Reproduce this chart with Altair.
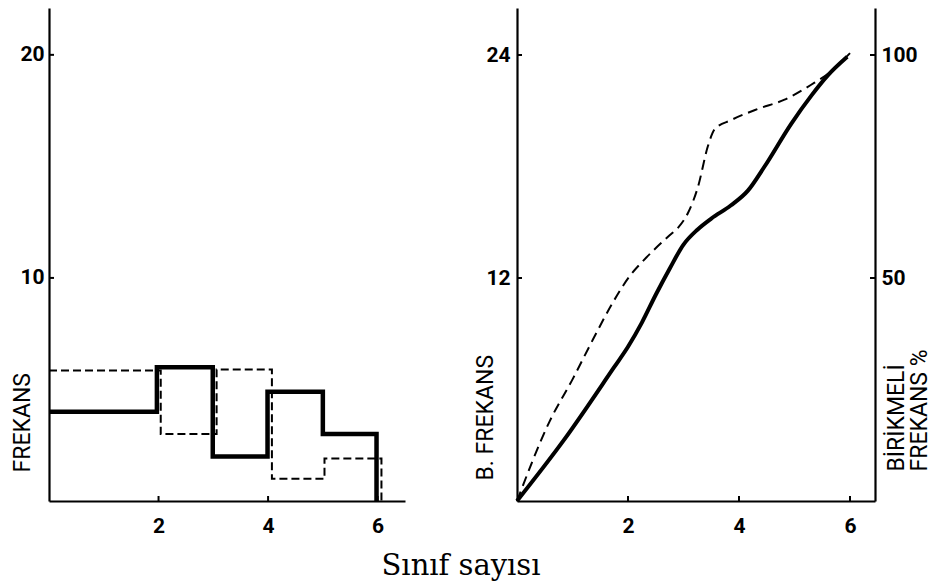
import altair as alt
import pandas as pd

# ---------------- data ----------------
# Left panel: step (histogram) frequencies per class
solid_edges = [0, 1.97, 2.99, 3.99, 5.0, 5.98]
solid_freq = [4.0, 6.0, 2.0, 4.9, 3.0, 0.0]
dashed_edges = [0, 2.04, 3.06, 4.07, 5.03, 6.07]
dashed_freq = [5.85, 3.0, 5.9, 1.0, 1.9, 0.0]

# Right panel: cumulative frequency curves
cum_solid_x = [0, 0.85, 1.75, 2.0, 2.25, 2.5, 2.75, 3.0, 3.25, 3.5, 3.85, 4.16, 4.46, 4.94, 5.3, 5.6, 5.95]
cum_solid_y = [0, 3.3, 7.2, 8.3, 9.6, 11.1, 12.5, 13.8, 14.6, 15.2, 15.9, 16.7, 18.0, 20.3, 21.8, 22.9, 23.9]
cum_dashed_x = [0, 0.59, 1.01, 1.37, 1.73, 2.03, 2.33, 2.75, 2.9, 3.08, 3.26, 3.44, 3.56, 3.86, 4.34, 4.82, 5.3, 5.65, 6.0]
cum_dashed_y = [0, 4.3, 6.6, 8.7, 10.7, 12.1, 13.1, 14.3, 14.7, 15.5, 16.9, 19.1, 20.0, 20.5, 21.1, 21.6, 22.4, 23.1, 24.1]

x_ticks = [2, 4, 6]
left_y_ticks = [10, 20]
right_y_ticks = [12, 24]
pct_ticks = [50, 100]

# ---------------- layout / style ----------------
W1, W2, H = 356, 358, 493
XMAX_L, XMAX_R = 6.5, 6.45
YMAX_L = 22.1
YMAX_R = 26.53
PMAX = YMAX_R / 24 * 100

TICK_FONT = "Roboto, DejaVu Sans"
TITLE_FONT = "Roboto, DejaVu Sans"
SERIF = "DejaVu Serif"

df_ls = pd.DataFrame({"x": solid_edges, "y": solid_freq})
df_ld = pd.DataFrame({"x": dashed_edges, "y": dashed_freq})
df_rs = pd.DataFrame({"x": cum_solid_x, "y": cum_solid_y})
df_rd = pd.DataFrame({"x": cum_dashed_x, "y": cum_dashed_y})
df_xt = pd.DataFrame({"x": x_ticks})
df_lyt = pd.DataFrame({"y": left_y_ticks})
df_ryt = pd.DataFrame({"y": right_y_ticks})
df_pt = pd.DataFrame({"p": pct_ticks})

common_axis = dict(
    ticks=False, grid=False, domainColor="black", domainWidth=2.2,
    labelFont=TICK_FONT, labelFontSize=21, labelFontWeight="bold",
    labelColor="black", format="d",
)
title_style = dict(
    titleFont=TITLE_FONT, titleFontSize=23, titleFontWeight="normal",
    titleColor="black", titleAngle=270, titleAlign="left", titleBaseline="middle",
)
no_frame = alt.ViewBackground(strokeOpacity=0, strokeWidth=0)

x_axis = alt.Axis(values=x_ticks, labelPadding=14, title=None, **common_axis)

# ---------- left panel ----------
XL = alt.X("x:Q", scale=alt.Scale(domain=[0, XMAX_L], nice=False, zero=False), axis=x_axis)
YL = alt.Y(
    "y:Q",
    scale=alt.Scale(domain=[0, YMAX_L], nice=False),
    axis=alt.Axis(
        values=left_y_ticks, labelPadding=5, title="FREKANS",
        titleX=-27, titleY=H - 29, **title_style, **common_axis,
    ),
)

left_solid = alt.Chart(df_ls).mark_line(
    interpolate="step-after", color="black", strokeWidth=4.5
).encode(x=XL, y=YL)
left_dashed = alt.Chart(df_ld).mark_line(
    interpolate="step-after", color="black", strokeWidth=2, strokeDash=[8, 4]
).encode(x=XL, y=YL)
left_xt = alt.Chart(df_xt).mark_rule(color="black", strokeWidth=2).encode(
    x=XL, y=alt.value(H), y2=alt.value(H - 5)
)
left_yt = alt.Chart(df_lyt).mark_rule(color="black", strokeWidth=2).encode(
    y=YL, x=alt.value(0), x2=alt.value(5)
)
left = alt.layer(left_solid, left_dashed, left_xt, left_yt).properties(
    width=W1, height=H, view=no_frame
)

# ---------- right panel ----------
XR = alt.X("x:Q", scale=alt.Scale(domain=[0, XMAX_R], nice=False, zero=False), axis=x_axis)
YR = alt.Y(
    "y:Q",
    scale=alt.Scale(domain=[0, YMAX_R], nice=False),
    axis=alt.Axis(
        values=right_y_ticks, labelPadding=7, title="B. FREKANS",
        titleX=-32, titleY=H - 21, **title_style, **common_axis,
    ),
)
YP = alt.Y(
    "p:Q",
    scale=alt.Scale(domain=[0, PMAX], nice=False),
    axis=alt.Axis(
        orient="right", values=pct_ticks, labelPadding=6,
        title=["BİRİKMELİ", "FREKANS %"],
        titleX=21, titleY=H - 30, titleLineHeight=23,
        **title_style, **common_axis,
    ),
)

right_solid = alt.Chart(df_rs).mark_line(
    interpolate="monotone", color="black", strokeWidth=4
).encode(x=XR, y=YR)
right_dashed = alt.Chart(df_rd).mark_line(
    interpolate="monotone", color="black", strokeWidth=2, strokeDash=[10, 6]
).encode(x=XR, y=YR)
right_xt = alt.Chart(df_xt).mark_rule(color="black", strokeWidth=2).encode(
    x=XR, y=alt.value(H), y2=alt.value(H - 5)
)
right_yt = alt.Chart(df_ryt).mark_rule(color="black", strokeWidth=2).encode(
    y=YR, x=alt.value(0), x2=alt.value(5)
)
right_pt = alt.Chart(df_pt).mark_rule(color="black", strokeWidth=2).encode(
    y=YP, x=alt.value(W2 - 5), x2=alt.value(W2)
)

right_main = alt.layer(right_solid, right_dashed, right_xt, right_yt)
right = (
    alt.layer(right_main, right_pt)
    .resolve_scale(y="independent")
    .properties(width=W2, height=H, view=no_frame)
)

chart = (
    alt.hconcat(left, right, spacing=69)
    .properties(
        padding={"left": 3, "top": 0, "right": 0, "bottom": 0},
        title=alt.TitleParams(
            "Sınıf sayısı", orient="bottom", anchor="middle",
            font=SERIF, fontSize=29, fontWeight="normal", color="black",
            offset=16, dx=-10,
        ),
    )
    .configure_view(strokeWidth=0, strokeOpacity=0)
    .configure(background="white")
)

chart.save("out.html", embed_options={"renderer": "svg", "actions": False})
